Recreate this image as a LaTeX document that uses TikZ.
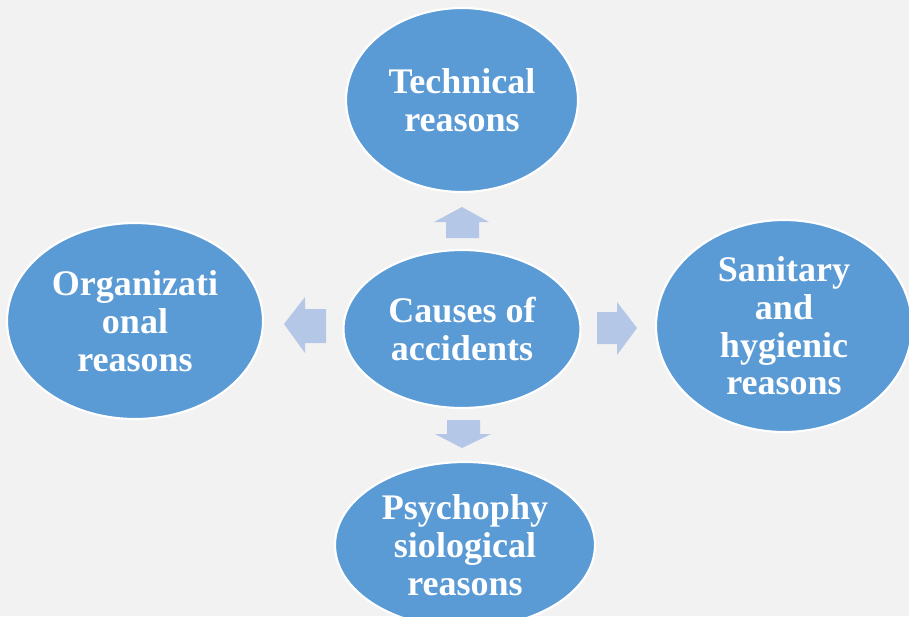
\documentclass[tikz,border=0pt]{standalone}
\usepackage{fontspec}
\setmainfont{Liberation Serif}
\usetikzlibrary{shapes.geometric}
\definecolor{causeblue}{HTML}{5B9BD5}
\definecolor{arrowblue}{HTML}{B4C7E7}
\definecolor{bggray}{HTML}{F2F2F2}
\tikzset{
  reason/.style={ellipse, draw=white, line width=1.2pt, fill=causeblue, text=white,
    inner sep=0pt, align=center, font=\fontsize{20.5}{21.5}\selectfont\bfseries},
  blockarrow/.style={fill=arrowblue}
}

\begin{document}
\begin{tikzpicture}[x=0.02cm, y=-0.02cm]
  \clip (0,0) rectangle (909,616);
  \fill[bggray] (0,0) rectangle (909,616);
  % the five ellipses
  \node[reason, minimum width=4.64cm, minimum height=3.68cm] (tech) at (462,100) {Technical\\reasons};
  \node[reason, minimum width=4.74cm, minimum height=3.16cm] (cause) at (462,329) {Causes of\\accidents};
  \node[reason, minimum width=5.12cm, minimum height=3.92cm] (org) at (135,321) {Organizati\\onal\\reasons};
  \node[reason, minimum width=5.12cm, minimum height=4.24cm] (san) at (784,326) {Sanitary\\and\\hygienic\\reasons};
  \node[reason, minimum width=5.2cm, minimum height=3.32cm] (psy) at (465,545) {Psychophy\\siological\\reasons};
  % block arrows
  \fill[blockarrow] (446,238) -- (446,222) -- (434,222) -- (462,207) -- (489,222) -- (479,222) -- (479,238) -- cycle;
  \fill[blockarrow] (447,420) -- (480,420) -- (480,434) -- (491,434) -- (462,448) -- (435,434) -- (447,434) -- cycle;
  \fill[blockarrow] (326,309) -- (305,309) -- (305,297) -- (284,324) -- (305,353) -- (305,343) -- (326,343) -- cycle;
  \fill[blockarrow] (597,312) -- (617,312) -- (617,302) -- (637,328) -- (617,355) -- (617,344) -- (597,344) -- cycle;
\end{tikzpicture}
\end{document}
